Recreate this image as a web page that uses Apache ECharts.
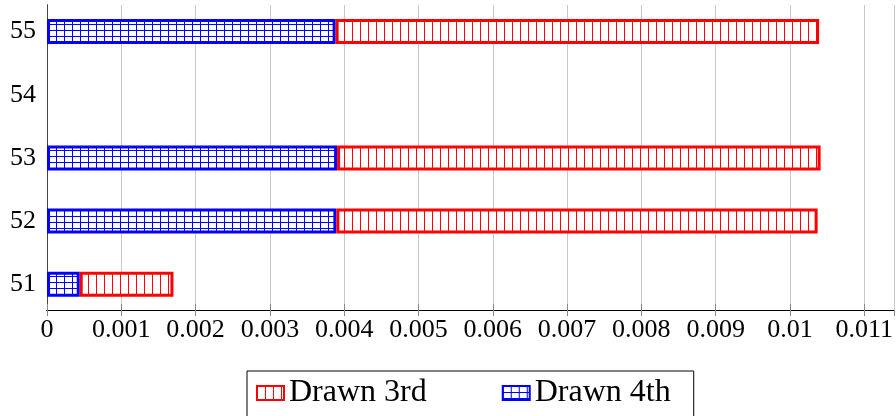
<!DOCTYPE html>
<html>
<head>
<meta charset="utf-8">
<script src="https://cdn.jsdelivr.net/npm/echarts@6/dist/echarts.min.js"></script>
<style>
html,body{margin:0;padding:0;background:#fff;}
#chart{width:896px;height:416px;}
</style>
</head>
<body>
<div id="chart"></div>
<script>
// ---- data ----
var categories = ['51', '52', '53', '54', '55'];
var drawn4th = [0.00044, 0.00389, 0.0039, null, 0.00388];
var drawn3rd = [0.00126, 0.00647, 0.0065, null, 0.0065];
var xMin = 0, xMax = 0.0114, xStep = 0.001;

function makePattern(color, w, h, grid) {
  var c = document.createElement('canvas');
  c.width = w; c.height = h;
  var ctx = c.getContext('2d');
  ctx.fillStyle = '#ffffff';
  ctx.fillRect(0, 0, w, h);
  ctx.fillStyle = color;
  ctx.fillRect(0, 0, 1, h);
  if (grid) ctx.fillRect(0, 0, w, 1);
  return c;
}
var redPat = { image: makePattern('#ff0000', 8, 8, false), repeat: 'repeat' };
var bluePat = { image: makePattern('#0000ff', 8, 6, true), repeat: 'repeat' };

var FONT = 'Liberation Serif';
var chart = echarts.init(document.getElementById('chart'), null, { renderer: 'canvas' });
function fmt(v) { return String(+(+v).toFixed(4)); }

var option = {
  animation: false,
  backgroundColor: '#fff',
  grid: [
    { left: 47, width: 848, top: 5, height: 305 },
    { left: 47, width: 848, top: -1.75, height: 317.5 }
  ],
  xAxis: [
    {
      gridIndex: 0, type: 'value', min: xMin, max: xMax, interval: xStep, position: 'bottom',
      axisLine: { show: true, lineStyle: { color: '#000', width: 1 } },
      axisTick: { show: true, inside: true, length: 6, lineStyle: { color: '#888' } },
      splitLine: { show: true, lineStyle: { color: '#c8c8c8', width: 1 } },
      axisLabel: { show: true, margin: 7, fontSize: 26, fontFamily: FONT, color: '#000',
        showMaxLabel: false, formatter: fmt }
    },
    {
      gridIndex: 0, type: 'value', min: xMin, max: xMax, interval: xStep, position: 'top',
      axisLine: { show: true, lineStyle: { color: '#000', width: 1 } },
      axisTick: { show: true, inside: true, length: 6, lineStyle: { color: '#888' } },
      splitLine: { show: false },
      axisLabel: { show: false }
    },
    {
      gridIndex: 1, type: 'value', min: xMin, max: xMax, show: false
    }
  ],
  yAxis: [
    {
      gridIndex: 0, type: 'value', min: 0, max: 1, position: 'left',
      axisLine: { show: true, lineStyle: { color: '#000', width: 1 } },
      axisTick: { show: false }, axisLabel: { show: false }, splitLine: { show: false }
    },
    {
      gridIndex: 0, type: 'value', min: 0, max: 1, position: 'right',
      axisLine: { show: true, lineStyle: { color: '#444', width: 1 } },
      axisTick: { show: false }, axisLabel: { show: false }, splitLine: { show: false }
    },
    {
      gridIndex: 1, type: 'category', data: categories,
      axisLine: { show: false }, axisTick: { show: false }, splitLine: { show: false },
      axisLabel: { show: true, margin: 11, fontSize: 26, fontFamily: FONT, color: '#000' }
    }
  ],
  legend: {
    data: ['Drawn 3rd', 'Drawn 4th'],
    left: 247, top: 371,
    orient: 'horizontal',
    padding: [6, 23, 40, 9],
    borderColor: '#000', borderWidth: 1, borderRadius: 0,
    itemWidth: 27, itemHeight: 14, itemGap: 75,
    icon: 'rect',
    textStyle: { fontSize: 32, fontFamily: FONT, color: '#000' }
  },
  series: [
    {
      name: 'Drawn 4th', type: 'bar', stack: 'total', xAxisIndex: 2, yAxisIndex: 2,
      barWidth: 25, data: drawn4th,
      itemStyle: { color: bluePat, borderColor: '#0000ff', borderWidth: 3 }
    },
    {
      name: 'Drawn 3rd', type: 'bar', stack: 'total', xAxisIndex: 2, yAxisIndex: 2,
      barWidth: 25, data: drawn3rd,
      itemStyle: { color: redPat, borderColor: '#ff0000', borderWidth: 3 }
    }
  ]
};
chart.setOption(option);
</script>
</body>
</html>
